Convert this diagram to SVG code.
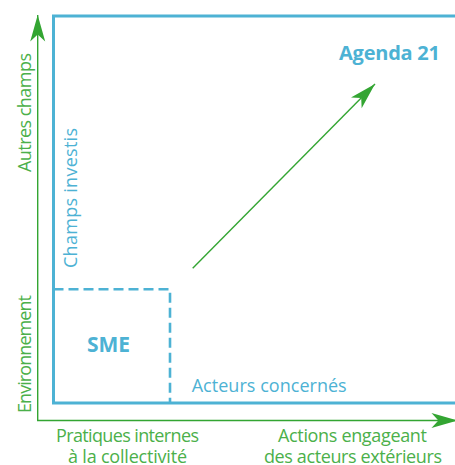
<svg xmlns="http://www.w3.org/2000/svg" width="455" height="465" viewBox="0 0 455 465">
  <style>
    .t { font-family: "Open Sans", "Noto Sans", "DejaVu Sans", sans-serif; font-size: 18px; }
    .g { fill: #4bb04a; }
    .b { fill: #4db2d4; }
    .bold { font-weight: bold; }
    .axis { stroke: #33a532; stroke-width: 1.4; fill: none; }
    .frame { stroke: #4db2d4; stroke-width: 3; fill: none; }
    .dash { stroke: #4db2d4; stroke-width: 2.6; fill: none; stroke-dasharray: 10 5; }
  </style>
  <defs>
    <marker id="ah" markerUnits="userSpaceOnUse" markerWidth="30" markerHeight="20" viewBox="-24 -8 26 16" refX="0" refY="0" orient="auto">
      <path d="M0,0 L-23,-6.5 L-17,0 L-23,6.5 Z" fill="#33a532"/>
    </marker>
  </defs>

  <g id="frame">
    <path class="frame" d="M460,16 H53.5 V403 H460"/>
  </g>

  <g id="sme">
    <path class="dash" d="M53.5,289.3 H170 V403"/>
    <text class="t b bold" x="108.5" y="351.7" text-anchor="middle" font-size="21" style="font-size:21px" textLength="43">SME</text>
  </g>

  <g id="agenda21">
    <text class="t b bold" x="389.5" y="60" text-anchor="middle" style="font-size:20px" textLength="101">Agenda 21</text>
  </g>

  <g id="connectors">
    <line class="axis" x1="37.7" y1="421" x2="37.7" y2="15" marker-end="url(#ah)"/>
    <line class="axis" x1="37" y1="420.5" x2="458" y2="420.5" marker-end="url(#ah)"/>
    <line class="axis" x1="192.7" y1="268.3" x2="375" y2="84" marker-end="url(#ah)"/>
  </g>

  <g id="labels">
    <text class="t g" transform="translate(31.2,112.5) rotate(-90)" text-anchor="middle" textLength="119">Autres champs</text>
    <text class="t g" transform="translate(31.2,354) rotate(-90)" text-anchor="middle" textLength="118">Environnement</text>
    <text class="t b" transform="translate(77,198) rotate(-90)" text-anchor="middle" textLength="140">Champs investis</text>
    <text class="t b" x="269.2" y="391.7" text-anchor="middle" textLength="155">Acteurs concernés</text>
    <text class="t g" x="127.5" y="441.7" text-anchor="middle" textLength="143">Pratiques internes</text>
    <text class="t g" x="127.5" y="462.7" text-anchor="middle" textLength="119">à la collectivité</text>
    <text class="t g" x="352.5" y="441.7" text-anchor="middle" textLength="149">Actions engageant</text>
    <text class="t g" x="353" y="462.7" text-anchor="middle" textLength="178">des acteurs extérieurs</text>
  </g>
</svg>
